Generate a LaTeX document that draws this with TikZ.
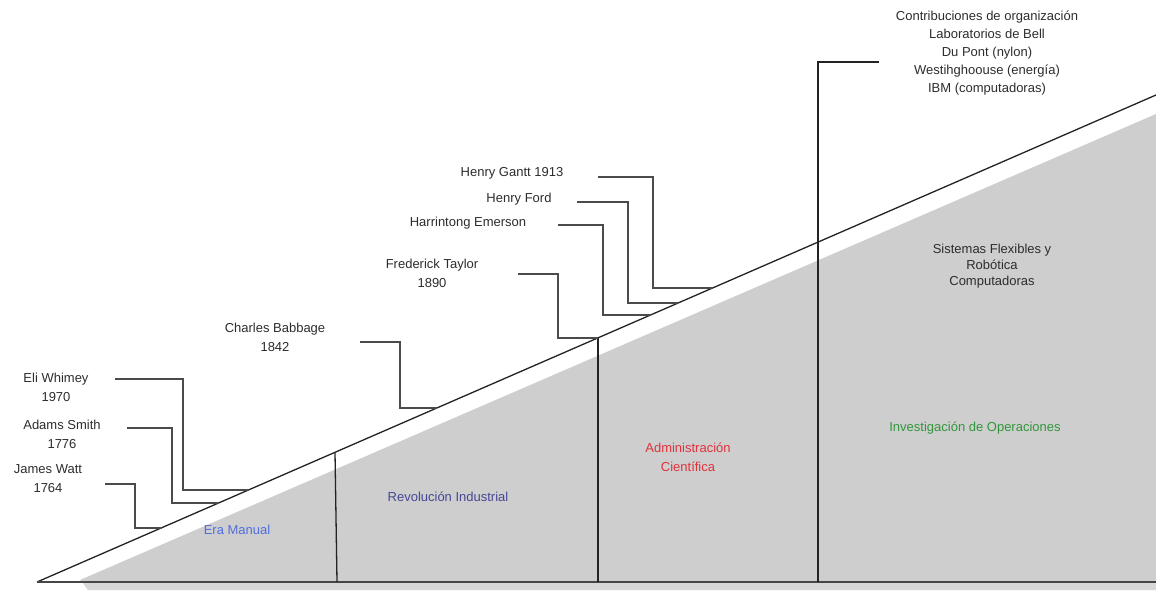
\documentclass[tikz,border=0pt]{standalone}
\usepackage{fontspec}
\setmainfont{Liberation Sans}
\definecolor{fillgray}{RGB}{206,206,206}
\definecolor{shadegray}{RGB}{215,215,215}
\definecolor{txtgray}{RGB}{45,45,45}
\definecolor{linegray}{RGB}{35,35,35}
\definecolor{conngray}{RGB}{75,75,75}
\definecolor{basegray}{RGB}{70,70,70}
\definecolor{eracol}{RGB}{80,110,220}
\definecolor{revcol}{RGB}{70,70,150}
\definecolor{admcol}{RGB}{225,50,60}
\definecolor{invcol}{RGB}{50,150,60}
\begin{document}
\begin{tikzpicture}[x=1pt,y=-1pt,
  lbl/.style={font=\fontsize{13}{19}\selectfont, text=txtgray, align=center, inner sep=0pt},
  era/.style={font=\fontsize{13}{19}\selectfont, align=center, inner sep=0pt},
  conn/.style={draw=conngray, line width=1.6pt},
  frame/.style={draw=linegray, line width=1.3pt}]
\useasboundingbox[fill=white] (0,0) rectangle (1156,590);
% gray area
\fill[fillgray] (80,580) -- (1156,114) -- (1156,582) -- (82,582) -- cycle;
\fill[shadegray] (82,582) -- (1156,582) -- (1156,590) -- (88,590) -- cycle;
% main lines
\coordinate (d0) at (37,582);
\coordinate (d1) at (1156,95);
\coordinate (b1) at (1156,582);
\draw[frame] (d0) -- (d1);
\draw[draw=basegray, line width=2.6pt] (d0) -- (b1);
% vertical dividers
\coordinate (v1t) at (335,452.3); \coordinate (v1b) at (337,582);
\coordinate (v2t) at (598,338);   \coordinate (v2b) at (598,582);
\coordinate (v3t) at (818,62);    \coordinate (v3b) at (818,582);
\coordinate (v3e) at (879,62);
\draw[frame] (v1t) -- (v1b);
\draw[frame] (v2t) -- (v2b);
\draw[frame] (v3e) -- (v3t) -- (v3b);
% labels
\node[lbl] (ew) at (56,387) {Eli Whimey\\1970};
\node[lbl] (as) at (62,434) {Adams Smith\\1776};
\node[lbl] (jw) at (48,479) {James Watt\\1764};
\node[lbl] (cb) at (275,337) {Charles Babbage\\1842};
\node[lbl] (ft) at (432,273) {Frederick Taylor\\1890};
\node[lbl] (he) at (468,223) {Harrintong Emerson};
\node[lbl] (hf) at (519,199) {Henry Ford};
\node[lbl] (hg) at (512,173) {Henry Gantt 1913};
\node[lbl, font=\fontsize{13}{18}\selectfont] (co) at (987,53) {Contribuciones de organización\\Laboratorios de Bell\\Du Pont (nylon)\\Westihghoouse (energía)\\IBM (computadoras)};
\node[lbl, font=\fontsize{13}{16}\selectfont] (sf) at (992,266) {Sistemas Flexibles y\\Robótica\\Computadoras};
\node[era, text=eracol] (em) at (237,530) {Era Manual};
\node[era, text=revcol] (ri) at (448,497) {Revolución Industrial};
\node[era, text=admcol] (ac) at (688,457) {Administración\\Científica};
\node[era, text=invcol] (io) at (975,428) {Investigación de Operaciones};
% connectors
\coordinate (ewS) at (115,379); \coordinate (ewK) at (183,490); \coordinate (ewH) at (249,490);
\coordinate (asS) at (127,428); \coordinate (asK) at (172,503); \coordinate (asH) at (218,503);
\coordinate (jwS) at (105,484); \coordinate (jwK) at (135,528); \coordinate (jwH) at (162,528);
\coordinate (cbS) at (360,342); \coordinate (cbK) at (400,408); \coordinate (cbH) at (437,408);
\coordinate (ftS) at (518,274); \coordinate (ftK) at (558,338);
\coordinate (heS) at (558,225); \coordinate (heK) at (603,315); \coordinate (heH) at (650,315);
\coordinate (hfS) at (577,202); \coordinate (hfK) at (628,303); \coordinate (hfH) at (678,303);
\coordinate (hgS) at (598,177); \coordinate (hgK) at (653,288); \coordinate (hgH) at (712,288);
\draw[conn] (ewS) -| (ewK) -- (ewH);
\draw[conn] (asS) -| (asK) -- (asH);
\draw[conn] (jwS) -| (jwK) -- (jwH);
\draw[conn] (cbS) -| (cbK) -- (cbH);
\draw[conn] (ftS) -| (ftK) -- (v2t);
\draw[conn] (heS) -| (heK) -- (heH);
\draw[conn] (hfS) -| (hfK) -- (hfH);
\draw[conn] (hgS) -| (hgK) -- (hgH);
\end{tikzpicture}
\end{document}
